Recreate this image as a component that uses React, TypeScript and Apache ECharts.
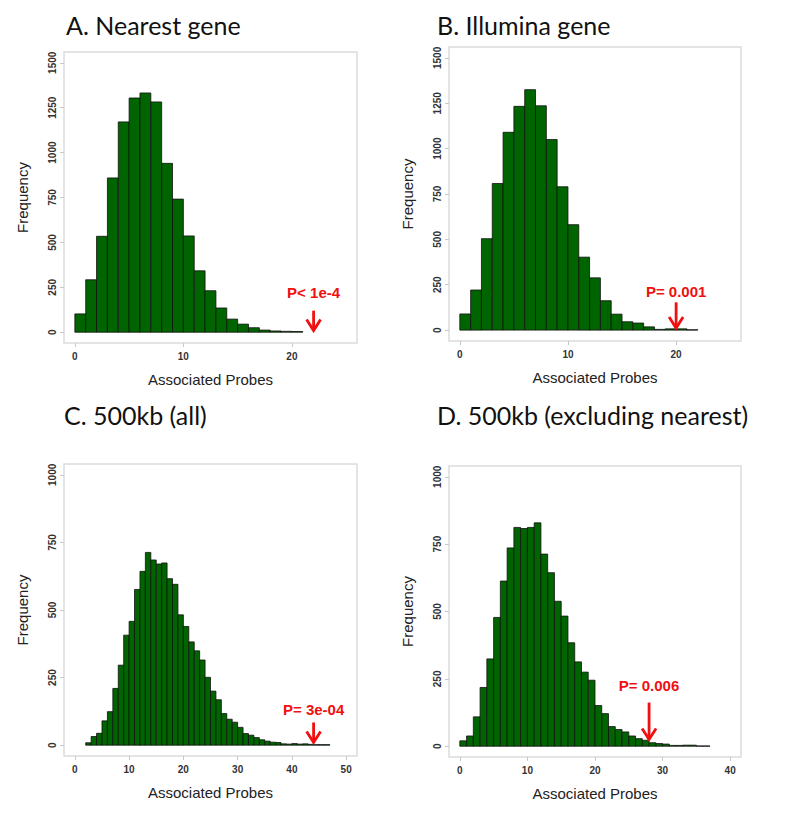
import React, { useEffect, useRef } from "react";
import * as echarts from "echarts";

// ---- data ----
const titles = ["A. Nearest gene", "B. Illumina gene", "C. 500kb (all)", "D. 500kb (excluding nearest)"];
const binStarts = [0, 0, 2, 0];
const countsA = [102, 292, 534, 859, 1171, 1304, 1332, 1282, 940, 741, 536, 342, 231, 135, 73, 45, 25, 12, 7, 5, 4];
const countsB = [89, 221, 504, 808, 1090, 1233, 1325, 1236, 1050, 790, 581, 402, 288, 162, 88, 46, 39, 18, 4, 7, 7, 2];
const countsC = [9, 32, 44, 90, 124, 210, 296, 407, 458, 576, 643, 713, 685, 670, 674, 616, 595, 482, 439, 382, 349, 315, 251, 200, 168, 117, 96, 85, 66, 43, 37, 28, 20, 15, 11, 10, 5, 4, 6, 4, 5, 3, 2, 2, 2];
const countsD = [20, 38, 109, 218, 324, 478, 613, 736, 812, 808, 812, 829, 713, 644, 538, 483, 384, 313, 275, 245, 151, 121, 73, 62, 53, 38, 28, 22, 13, 10, 8, 3, 3, 4, 4, 1, 1];
const xTicksA = [0, 10, 20];
const xTicksB = [0, 10, 20];
const xTicksC = [0, 10, 20, 30, 40, 50];
const xTicksD = [0, 10, 20, 30, 40];
const yTicksAB = [0, 250, 500, 750, 1000, 1250, 1500];
const yTicksCD = [0, 250, 500, 750, 1000];
const pLabels = ["P< 1e-4", "P= 0.001", "P= 3e-04", "P= 0.006"];
// arrow: [x, shaft top, shaft bottom, label y]
const arrowA = [22, 120, 9, 219];
const arrowB = [20, 153, 11, 214];
const arrowC = [44, 84, 10, 133];
const arrowD = [28, 162, 25, 226];

const counts = [countsA, countsB, countsC, countsD];
const xTicks = [xTicksA, xTicksB, xTicksC, xTicksD];
const yTicks = [yTicksAB, yTicksAB, yTicksCD, yTicksCD];
const arrows = [arrowA, arrowB, arrowC, arrowD];

// layout / style
const grids = [
  { left: 64, top: 52, width: 293, height: 291 },
  { left: 449, top: 47, width: 292, height: 294 },
  { left: 64, top: 464, width: 293, height: 292 },
  { left: 449, top: 466, width: 292, height: 291 },
];
const xRanges = [[-1, 26], [-1, 26], [-2, 52], [-1.6, 41.6]];
const yRanges = [[-60, 1560], [-60, 1560], [-40, 1040], [-40, 1040]];
const titlePos = [
  { left: 61, top: 7 },
  { left: 432, top: 7 },
  { left: 59, top: 397 },
  { left: 432, top: 397 },
];
const GREEN = "#006400";
const RED = "#f01010";
const SANS = "'Liberation Sans', Arial, sans-serif";

export default function App() {
  const ref = useRef<HTMLDivElement>(null);
  useEffect(() => {
    if (!ref.current) return;
    const chart = echarts.init(ref.current, null, { renderer: "svg" });

    const histSeries = counts.map((arr, gi) => ({
      type: "custom",
      xAxisIndex: gi,
      yAxisIndex: gi,
      data: arr.map((v, i) => [binStarts[gi] + i, binStarts[gi] + i + 1, v]),
      encode: { x: [0, 1], y: 2 },
      renderItem: (params: any, api: any) => {
        const p0 = api.coord([api.value(0), api.value(2)]);
        const p1 = api.coord([api.value(1), 0]);
        return {
          type: "rect",
          shape: { x: p0[0], y: p0[1], width: p1[0] - p0[0], height: p1[1] - p0[1] },
          style: { fill: GREEN, stroke: "#111", lineWidth: 0.8 },
        };
      },
      silent: true,
    }));

    const arrowSeries = arrows.map((a, gi) => ({
      type: "custom",
      xAxisIndex: gi,
      yAxisIndex: gi,
      data: [a],
      encode: { x: 0, y: [1, 2, 3] },
      renderItem: (params: any, api: any) => {
        const x = api.value(0);
        const top = api.coord([x, api.value(1)]);
        const bot = api.coord([x, api.value(2)]);
        const lab = api.coord([x, api.value(3)]);
        return {
          type: "group",
          children: [
            {
              type: "line",
              shape: { x1: top[0], y1: top[1], x2: bot[0], y2: bot[1] },
              style: { stroke: RED, lineWidth: 2.8 },
            },
            {
              type: "polyline",
              shape: {
                points: [
                  [bot[0] - 7, bot[1] - 11],
                  [bot[0], bot[1]],
                  [bot[0] + 7, bot[1] - 11],
                ],
              },
              style: { stroke: RED, lineWidth: 2.8, fill: "none" },
            },
            {
              type: "text",
              x: lab[0],
              y: lab[1],
              style: {
                text: pLabels[gi],
                fill: RED,
                font: "bold 15px 'Liberation Sans', Arial, sans-serif",
                align: "center",
                verticalAlign: "middle",
              },
            },
          ],
        };
      },
      silent: true,
    }));

    const option: any = {
      animation: false,
      backgroundColor: "#ffffff",
      title: titles.map((t, i) => ({
        text: t,
        left: titlePos[i].left,
        top: titlePos[i].top,
        textStyle: { fontFamily: "Lato", fontSize: 25, fontWeight: "normal", color: "#111" },
      })),
      grid: grids.map((g) => ({
        ...g,
        show: true,
        borderColor: "#dcdcdc",
        borderWidth: 1.5,
        backgroundColor: "transparent",
        containLabel: false,
        outerBoundsMode: "none",
      })),
      xAxis: grids.map((g, i) => ({
        gridIndex: i,
        type: "value",
        min: xRanges[i][0],
        max: xRanges[i][1],
        axisLine: { show: false, onZero: false },
        splitLine: { show: false },
        axisTick: { show: true, customValues: xTicks[i], length: 4, lineStyle: { color: "#c8c8c8" } },
        axisLabel: {
          customValues: xTicks[i],
          formatter: (v: number) => String(v),
          fontSize: 10,
          fontWeight: "bold",
          color: "#333",
          margin: 8,
          fontFamily: SANS,
        },
        name: "Associated Probes",
        nameLocation: "middle",
        nameGap: 29,
        nameTextStyle: { fontSize: 15, color: "#222", fontFamily: SANS },
      })),
      yAxis: grids.map((g, i) => ({
        gridIndex: i,
        type: "value",
        min: yRanges[i][0],
        max: yRanges[i][1],
        axisLine: { show: false, onZero: false },
        splitLine: { show: false },
        axisTick: { show: true, customValues: yTicks[i], length: 4, lineStyle: { color: "#c8c8c8" } },
        axisLabel: {
          customValues: yTicks[i],
          formatter: (v: number) => String(v),
          rotate: 90,
          fontSize: 10,
          fontWeight: "bold",
          color: "#333",
          margin: 7,
          fontFamily: SANS,
        },
        name: "Frequency",
        nameLocation: "middle",
        nameGap: 34,
        nameTextStyle: { fontSize: 15, color: "#222", fontFamily: SANS },
      })),
      series: [...histSeries, ...arrowSeries],
    };
    chart.setOption(option);
    return () => chart.dispose();
  }, []);
  return (
    <div
      ref={ref}
      style={{ position: "absolute", left: 0, top: 0, width: 800, height: 813, background: "#fff" }}
    />
  );
}
